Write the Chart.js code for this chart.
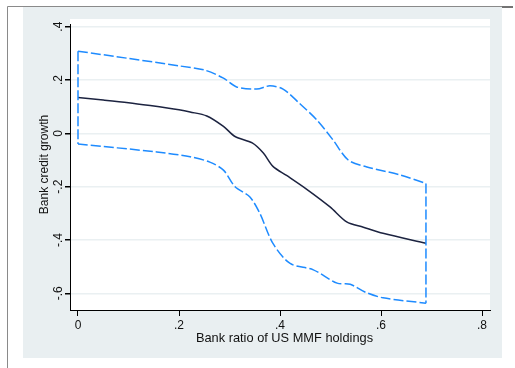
<!DOCTYPE html>
<html>
<head>
<meta charset="utf-8">
<script src="https://cdn.jsdelivr.net/npm/chart.js@4/dist/chart.umd.min.js"></script>
<style>
  body { margin: 0; background: #fff; }
  canvas { display: block; }
</style>
</head>
<body>
<canvas id="chart" width="515" height="368"></canvas>
<script>
// point estimate
const lineX = [0, 0.05, 0.1, 0.143, 0.2, 0.222, 0.255, 0.288, 0.311, 0.345, 0.367, 0.386, 0.413, 0.453, 0.499, 0.532, 0.565, 0.604, 0.689];
const lineY = [0.134, 0.125, 0.115, 0.104, 0.088, 0.08, 0.065, 0.026, -0.012, -0.036, -0.074, -0.124, -0.158, -0.21, -0.276, -0.332, -0.352, -0.375, -0.412];

// confidence band
const upperX = [0, 0.1, 0.2, 0.251, 0.288, 0.314, 0.354, 0.38, 0.406, 0.44, 0.473, 0.505, 0.535, 0.572, 0.638, 0.689];
const upperY = [0.308, 0.281, 0.253, 0.237, 0.207, 0.174, 0.166, 0.178, 0.166, 0.11, 0.05, -0.025, -0.1, -0.126, -0.156, -0.188];
const lowerX = [0, 0.156, 0.222, 0.261, 0.288, 0.311, 0.34, 0.36, 0.386, 0.42, 0.466, 0.513, 0.539, 0.568, 0.604, 0.689];
const lowerY = [-0.04, -0.07, -0.088, -0.108, -0.138, -0.2, -0.238, -0.3, -0.413, -0.488, -0.512, -0.562, -0.566, -0.595, -0.617, -0.637];

const xTicks = [0, 0.2, 0.4, 0.6, 0.8];
const yTicks = [-0.6, -0.4, -0.2, 0, 0.2, 0.4];
const xTitle = "Bank ratio of US MMF holdings";
const yTitle = "Bank credit growth";

const FONT = '"Liberation Sans", Arial, sans-serif';
const BLUE = "#1e8bff";

function fmt(v) {
    if (v === 0) return "0";
    return v.toFixed(1).replace("0.", ".");
}

const pts = (xs, ys) => xs.map((x, i) => ({ x: x, y: ys[i] }));
const last = upperX.length - 1, lastL = lowerX.length - 1;
// the two closing sides of the band
const leftEdge = [{ x: upperX[0], y: upperY[0] }, { x: lowerX[0], y: lowerY[0] }];
const rightEdge = [{ x: upperX[last], y: upperY[last] }, { x: lowerX[lastL], y: lowerY[lastL] }];

const frame = {
    id: "frame",
    beforeDraw(chart) {
        const c = chart.ctx, a = chart.chartArea;
        c.save();
        c.fillStyle = "#fff";
        c.fillRect(0, 0, chart.width, chart.height);
        c.fillStyle = "#e9eff1";
        c.fillRect(23, 7, 479, 351);
        c.fillStyle = "#fff";
        c.fillRect(a.left, 19, a.right - a.left, a.bottom - 19);
        c.strokeStyle = "#8a8a8a";
        c.lineWidth = 1;
        c.beginPath();
        c.moveTo(7.5, 6.5); c.lineTo(502, 6.5);
        c.moveTo(7.5, 6.5); c.lineTo(7.5, 368);
        c.stroke();
        c.strokeStyle = "#444";
        c.lineWidth = 1.5;
        c.beginPath();
        c.moveTo(502, 7); c.lineTo(513, 7);
        c.stroke();
        c.restore();
    },
    afterDraw(chart) {
        const c = chart.ctx, xs = chart.scales.x, ys = chart.scales.y;
        c.save();
        c.fillStyle = "#111";
        c.font = "12px " + FONT;
        c.textAlign = "center";
        c.textBaseline = "alphabetic";
        xTicks.forEach(v => c.fillText(fmt(v), xs.getPixelForValue(v), 329));
        yTicks.forEach(v => {
            c.save();
            c.translate(62, ys.getPixelForValue(v));
            c.rotate(-Math.PI / 2);
            c.fillText(fmt(v), 0, 0);
            c.restore();
        });
        c.save();
        c.font = "12.8px " + FONT;
        c.fillText(xTitle, 284.5, 342);
        c.restore();
        c.translate(48, (19 + ys.bottom) / 2);
        c.rotate(-Math.PI / 2);
        c.fillText(yTitle, 0, 0);
        c.restore();
    }
};

const bandStyle = {
    showLine: true,
    borderColor: BLUE,
    borderWidth: 1.5,
    borderDash: [10, 3],
    pointRadius: 0
};

new Chart(document.getElementById("chart"), {
    type: "scatter",
    data: {
        datasets: [
            Object.assign({ data: pts(upperX, upperY), tension: 0.3 }, bandStyle),
            Object.assign({ data: pts(lowerX, lowerY), tension: 0.3 }, bandStyle),
            Object.assign({ data: leftEdge, tension: 0 }, bandStyle),
            Object.assign({ data: rightEdge, tension: 0 }, bandStyle),
            {
                data: pts(lineX, lineY),
                showLine: true,
                borderColor: "#1c2340",
                borderWidth: 1.5,
                pointRadius: 0,
                tension: 0.3
            }
        ]
    },
    options: {
        responsive: false,
        animation: false,
        layout: { padding: { top: 24, right: 25, left: 0, bottom: 0 } },
        plugins: { legend: { display: false }, tooltip: { enabled: false } },
        scales: {
            x: {
                type: "linear",
                min: -0.01584,
                max: 0.8158,
                afterBuildTicks: s => { s.ticks = xTicks.map(v => ({ value: v })); },
                afterFit: s => { s.height = 58; },
                ticks: { display: false },
                grid: { drawOnChartArea: false, drawTicks: true, tickLength: 6, tickColor: "#000" },
                border: { color: "#000", width: 1 }
            },
            y: {
                type: "linear",
                min: -0.6626,
                max: 0.41,
                afterBuildTicks: s => { s.ticks = yTicks.map(v => ({ value: v })); },
                afterFit: s => { s.width = 70; },
                ticks: { display: false },
                grid: { color: "#eaf0f2", lineWidth: 1.5, drawTicks: true, tickLength: 5, tickColor: "#000" },
                border: { color: "#000", width: 1 }
            }
        }
    },
    plugins: [frame]
});
</script>
</body>
</html>
